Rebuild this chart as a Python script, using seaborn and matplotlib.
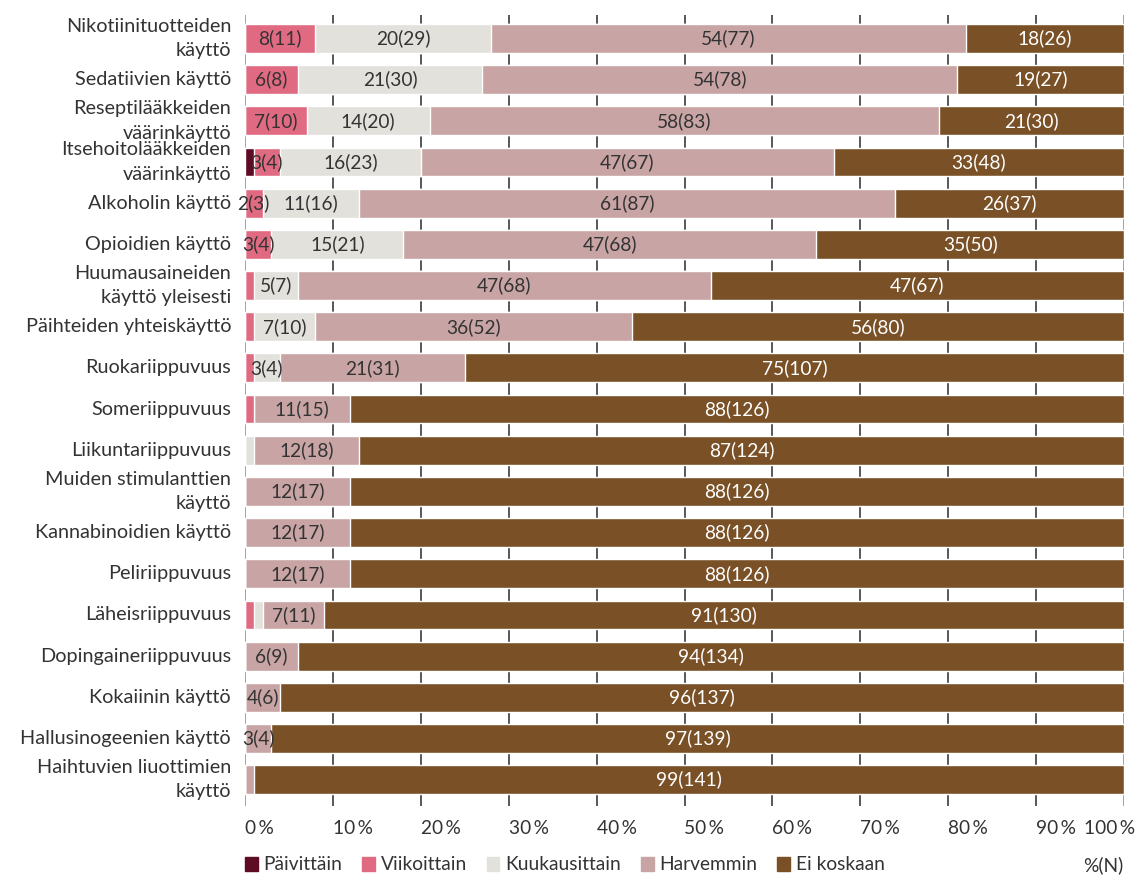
import seaborn as sns
import matplotlib.pyplot as plt
import matplotlib.patches as mpatches
import matplotlib.transforms as mtransforms
import numpy as np
import pandas as pd

# kategoriat ylhäältä alas
categories = [
    "Nikotiinituotteiden\nkäyttö",
    "Sedatiivien käyttö",
    "Reseptilääkkeiden\nväärinkäyttö",
    "Itsehoitolääkkeiden\nväärinkäyttö",
    "Alkoholin käyttö",
    "Opioidien käyttö",
    "Huumausaineiden\nkäyttö yleisesti",
    "Päihteiden yhteiskäyttö",
    "Ruokariippuvuus",
    "Someriippuvuus",
    "Liikuntariippuvuus",
    "Muiden stimulanttien\nkäyttö",
    "Kannabinoidien käyttö",
    "Peliriippuvuus",
    "Läheisriippuvuus",
    "Dopingaineriippuvuus",
    "Kokaiinin käyttö",
    "Hallusinogeenien käyttö",
    "Haihtuvien liuottimien\nkäyttö",
]
series = ["Päivittäin", "Viikoittain", "Kuukausittain", "Harvemmin", "Ei koskaan"]
colors = ["#5e0b24", "#e06a82", "#e2e1dc", "#c8a4a4", "#7a5127"]

# prosentit (%)
paivittain_pct    = [0, 0, 0, 1, 0, 0, 0, 0, 0, 0, 0, 0, 0, 0, 0, 0, 0, 0, 0]
viikoittain_pct   = [8, 6, 7, 3, 2, 3, 1, 1, 1, 1, 0, 0, 0, 0, 1, 0, 0, 0, 0]
kuukausittain_pct = [20, 21, 14, 16, 11, 15, 5, 7, 3, 0, 1, 0, 0, 0, 1, 0, 0, 0, 0]
harvemmin_pct     = [54, 54, 58, 47, 61, 47, 47, 36, 21, 11, 12, 12, 12, 12, 7, 6, 4, 3, 1]
ei_koskaan_pct    = [18, 19, 21, 33, 26, 35, 47, 56, 75, 88, 87, 88, 88, 88, 91, 94, 96, 97, 99]

# lukumäärät (N)
paivittain_n    = [0, 0, 0, 1, 0, 0, 0, 0, 0, 0, 0, 0, 0, 0, 0, 0, 0, 0, 0]
viikoittain_n   = [11, 8, 10, 4, 3, 4, 1, 1, 1, 2, 0, 0, 0, 0, 1, 0, 0, 0, 0]
kuukausittain_n = [29, 30, 20, 23, 16, 21, 7, 10, 4, 0, 1, 0, 0, 0, 1, 0, 0, 0, 0]
harvemmin_n     = [77, 78, 83, 67, 87, 68, 68, 52, 31, 15, 18, 17, 17, 17, 11, 9, 6, 4, 2]
ei_koskaan_n    = [26, 27, 30, 48, 37, 50, 67, 80, 107, 126, 124, 126, 126, 126, 130, 134, 137, 139, 141]

pct = np.array([paivittain_pct, viikoittain_pct, kuukausittain_pct, harvemmin_pct, ei_koskaan_pct])
cnt = np.array([paivittain_n, viikoittain_n, kuukausittain_n, harvemmin_n, ei_koskaan_n])
cum = pct.cumsum(axis=0)

sns.set_style("white")
plt.rcParams['font.family'] = ['Lato', 'DejaVu Sans']
TXT = "#333333"
FS = 13.8

fig = plt.figure(figsize=(11.39, 8.77), dpi=100)
ax = fig.add_axes([245 / 1139, 1 - 806 / 877, (1124 - 245) / 1139, (806 - 15) / 877])

# pinotut palkit: piirretään kumulatiiviset summat suurimmasta pienimpään
for k in range(len(series) - 1, -1, -1):
    df = pd.DataFrame({"cat": categories, "val": cum[k]})
    sns.barplot(data=df, x="val", y="cat", color=colors[k], width=0.7,
                orient="h", ax=ax, saturation=1, zorder=2)

# arvot palkkeihin
for k in range(len(series)):
    for i in range(len(categories)):
        p = pct[k, i]
        if p < 2:
            continue
        left = cum[k, i] - p
        ax.text(left + p / 2, i, f"{p}({cnt[k, i]})", ha="center", va="center",
                fontsize=FS, color="white" if k == 4 else TXT, zorder=3)

ax.set_xlim(0, 100)
ax.set_ylim(18.64, -0.57)
ax.set_xticks(np.arange(0, 101, 10))
ax.set_xticklabels([f"{v}\u2009%" for v in range(0, 101, 10)], fontsize=FS, color=TXT)
ax.tick_params(axis="both", length=0)
ax.tick_params(axis="x", pad=10)
ax.set_yticklabels([])
xlabs = ax.get_xticklabels()
for lab in xlabs[:-1]:
    lab.set_ha("left")
xlabs[-1].set_ha("right")
xlabs[-1].set_transform(xlabs[-1].get_transform() +
                        mtransforms.ScaledTranslation(11 / 100, 0, fig.dpi_scale_trans))
ax.set_xlabel("")
ax.set_ylabel("")
sns.despine(ax=ax, left=True, bottom=True)

# kategoriat käsin, jotta riviväli saadaan oikeaksi
ytrans = mtransforms.blended_transform_factory(ax.transAxes, ax.transData)
for i, c in enumerate(categories):
    ax.text(-14 / 879, i, c, transform=ytrans, ha="right", va="center",
            multialignment="right", fontsize=14.3, color=TXT, linespacing=1.55)

ax.xaxis.grid(True, color="#2a2a2a", lw=1.1, zorder=0)
ax.set_axisbelow(True)
gl = ax.get_xgridlines()
gl[0].set_color("#8a8a8a")
gl[-1].set_color("#8a8a8a")

handles = [mpatches.Patch(color=c, label=s) for c, s in zip(colors, series)]
fig.legend(handles=handles, loc="center left", bbox_to_anchor=(228 / 1139, 1 - 865 / 877),
           ncol=5, frameon=False, fontsize=FS, handlelength=0.65, handleheight=0.7,
           handletextpad=0.3, columnspacing=1.05, labelcolor=TXT)
fig.text(1123 / 1139, 1 - 865 / 877, "%(N)", ha="right", va="center", fontsize=FS, color=TXT)

fig.savefig("out.png", dpi=100)
